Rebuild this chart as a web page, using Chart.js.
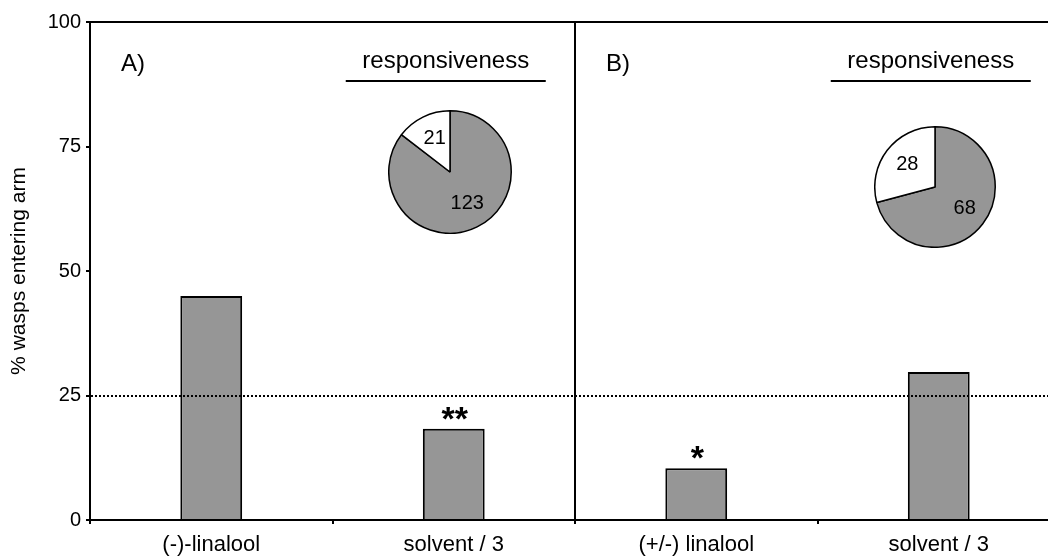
<!DOCTYPE html>
<html>
<head>
<meta charset="utf-8">
<script src="https://cdn.jsdelivr.net/npm/chart.js@4/dist/chart.umd.min.js"></script>
<style>
  html, body { margin: 0; padding: 0; background: #fff; overflow: hidden; width: 1048px; height: 556px; }
  #wrap { position: relative; width: 1060px; height: 556px; }
  #main { position: absolute; left: 0; top: 0; }
  .pie { position: absolute; }
</style>
</head>
<body>
<div id="wrap">
  <canvas id="main" width="1060" height="556"></canvas>
  <canvas id="pieA" class="pie" width="124" height="124" style="left:388px;top:110px"></canvas>
  <canvas id="pieB" class="pie" width="122" height="122" style="left:874px;top:126px"></canvas>
</div>
<script>
// Olfactometer choices: share of wasps entering each arm
const categories = ['(-)-linalool', 'solvent / 3', '(+/-) linalool', 'solvent / 3'];
const percentEntering = [45, 18.3, 10.4, 29.7];
const significance = ['', '**', '*', ''];
const yTicks = [0, 25, 50, 75, 100];
const chanceLevel = 25;

// Responsiveness of the wasps in each experiment (responding, not responding)
const panelLabels = ['A)', 'B)'];
const pieTitle = 'responsiveness';
const responsiveA = [123, 21];
const responsiveB = [68, 28];

const FONT = '"Liberation Sans", Arial, Helvetica, sans-serif';
const GREY = '#969696';

const figureMarks = {
  id: 'figureMarks',
  afterDatasetsDraw(chart) {
    const { ctx, chartArea, scales: { x, y } } = chart;
    ctx.save();

    // dotted chance level line
    const yy = Math.round(y.getPixelForValue(chanceLevel));
    ctx.strokeStyle = '#000';
    ctx.lineWidth = 2;
    ctx.setLineDash([2, 2]);
    ctx.beginPath();
    ctx.moveTo(chartArea.left + 1, yy);
    ctx.lineTo(chartArea.right, yy);
    ctx.stroke();
    ctx.setLineDash([]);

    // significance asterisks above the bars
    ctx.fillStyle = '#000';
    ctx.textAlign = 'center';
    ctx.textBaseline = 'alphabetic';
    ctx.font = 'bold 34px ' + FONT;
    chart.getDatasetMeta(0).data.forEach((bar, i) => {
      if (significance[i]) ctx.fillText(significance[i], bar.x + 1, bar.y + 1);
    });

    // panel letters, titles and underlines
    const half = (x.getPixelForValue(1) - x.getPixelForValue(0)) / 2;
    panelLabels.forEach((label, p) => {
      const panelLeft = x.getPixelForValue(p * 2) - half;
      const centre = x.getPixelForValue(p * 2 + 1) - 8;
      ctx.font = '24px ' + FONT;
      ctx.textAlign = 'left';
      ctx.fillText(label, panelLeft + 31, 71);
      ctx.textAlign = 'center';
      ctx.fillText(pieTitle, centre, 68);
      ctx.lineWidth = 2;
      ctx.beginPath();
      ctx.moveTo(centre - 100, 81);
      ctx.lineTo(centre + 100, 81);
      ctx.stroke();
    });
    ctx.restore();
  }
};

new Chart(document.getElementById('main'), {
  type: 'bar',
  data: {
    labels: categories,
    datasets: [{
      data: percentEntering,
      backgroundColor: GREY,
      borderColor: '#000',
      borderWidth: 2,
      barPercentage: 0.255,
      categoryPercentage: 1
    }]
  },
  options: {
    responsive: false,
    animation: false,
    devicePixelRatio: 1,
    layout: { padding: { top: 22, right: 0, bottom: 0, left: 0 } },
    plugins: { legend: { display: false }, tooltip: { enabled: false } },
    scales: {
      x: {
        offset: true,
        grid: {
          offset: true,
          color: c => (c.index === 2 ? '#000' : 'rgba(0,0,0,0)'),
          tickColor: '#000',
          lineWidth: 2,
          tickLength: 4
        },
        border: { color: '#000', width: 2 },
        ticks: { color: '#000', font: { family: FONT, size: 22 }, padding: 8, maxRotation: 0, autoSkip: false },
        afterFit: s => { s.height = 36; }
      },
      y: {
        min: 0,
        max: 100,
        afterBuildTicks: s => { s.ticks = yTicks.map(v => ({ value: v })); },
        grid: {
          color: c => (c.tick && c.tick.value === 100 ? '#000' : 'rgba(0,0,0,0)'),
          tickColor: '#000',
          lineWidth: 2,
          tickLength: 4
        },
        border: { color: '#000', width: 2 },
        ticks: { color: '#000', font: { family: FONT, size: 20 }, padding: 5 },
        title: {
          display: true,
          text: '% wasps entering arm',
          color: '#000',
          font: { family: FONT, size: 21 },
          padding: { top: 7, bottom: 0 }
        },
        afterFit: s => { s.width = 90; }
      }
    }
  },
  plugins: [figureMarks]
});

// numbers written inside the pie slices
const sliceNumbers = {
  id: 'sliceNumbers',
  afterDatasetsDraw(chart) {
    const { ctx } = chart;
    const values = chart.data.datasets[0].data;
    ctx.save();
    ctx.fillStyle = '#000';
    ctx.font = '20px ' + FONT;
    ctx.textAlign = 'center';
    ctx.textBaseline = 'middle';
    chart.getDatasetMeta(0).data.forEach((arc, i) => {
      const { x, y, startAngle, endAngle, outerRadius } = arc.getProps(['x', 'y', 'startAngle', 'endAngle', 'outerRadius'], true);
      const mid = (startAngle + endAngle) / 2;
      const r = outerRadius * 0.6;
      ctx.fillText(String(values[i]), x + Math.cos(mid) * r + 1, y + Math.sin(mid) * r - 1);
    });
    ctx.restore();
  }
};

function drawPie(id, values) {
  new Chart(document.getElementById(id), {
    type: 'pie',
    data: {
      labels: ['responding', 'not responding'],
      datasets: [{
        data: values,
        backgroundColor: [GREY, '#ffffff'],
        borderColor: '#000',
        borderWidth: 1.5
      }]
    },
    options: {
      responsive: false,
      animation: false,
      devicePixelRatio: 1,
      layout: { padding: 0 },
      plugins: { legend: { display: false }, tooltip: { enabled: false } }
    },
    plugins: [sliceNumbers]
  });
}

drawPie('pieA', responsiveA);
drawPie('pieB', responsiveB);
</script>
</body>
</html>
